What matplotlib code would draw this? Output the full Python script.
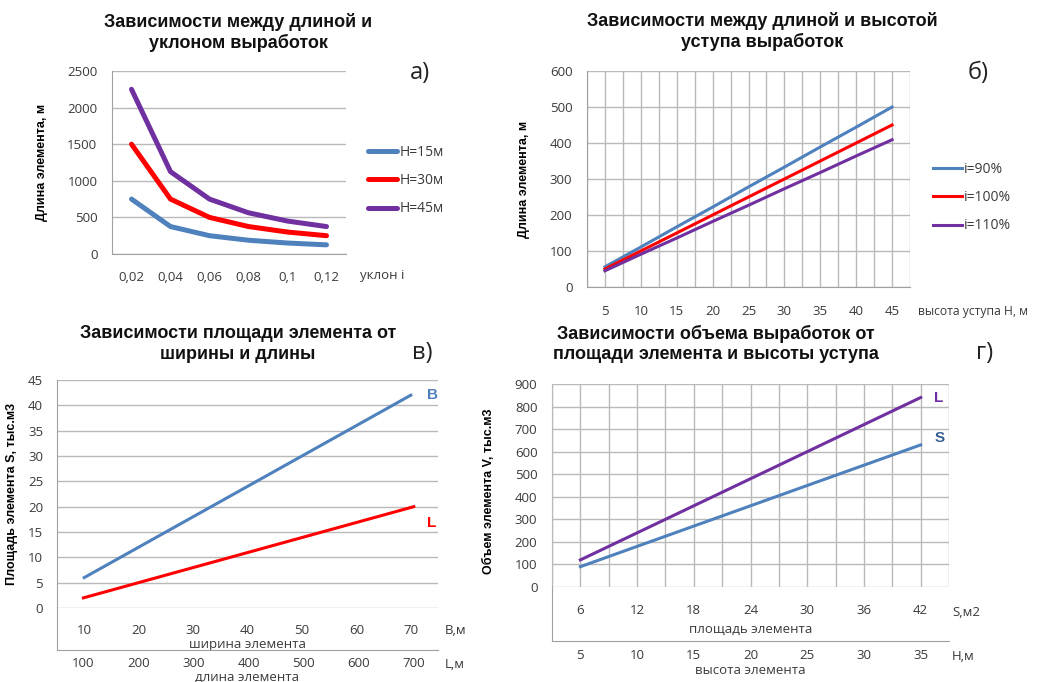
import matplotlib
matplotlib.use('Agg')
import matplotlib.pyplot as plt
from matplotlib.ticker import MultipleLocator

plt.rcParams['font.family'] = ['Open Sans', 'DejaVu Sans']

# а) длина элемента от уклона
slopes = ['0,02', '0,04', '0,06', '0,08', '0,1', '0,12']
len_h15 = [750, 375, 250, 188, 150, 125]
len_h30 = [1500, 750, 500, 375, 300, 250]
len_h45 = [2250, 1125, 750, 563, 450, 375]

# б) длина элемента от высоты уступа
heights = [5, 10, 15, 20, 25, 30, 35, 40, 45]
len_i90 = [56, 111, 167, 222, 278, 333, 389, 444, 500]
len_i100 = [50, 100, 150, 200, 250, 300, 350, 400, 450]
len_i110 = [45, 91, 136, 182, 227, 273, 318, 364, 409]

# в) площадь элемента от ширины и длины
widths_b = [10, 20, 30, 40, 50, 60, 70]
area_b = [6, 12, 18, 24, 30, 36, 42]
lengths_l = [100, 200, 300, 400, 500, 600, 700]
area_l = [2, 5, 8, 11, 14, 17, 20]

# г) объем от площади элемента и высоты уступа
areas_s = [6, 12, 18, 24, 30, 36, 42]
heights_h = [5, 10, 15, 20, 25, 30, 35]
vol_l = [120, 240, 360, 480, 600, 720, 840]
vol_s = [90, 180, 270, 360, 450, 540, 630]

BLUE = '#4f81bd'
RED = '#ff0000'
PURPLE = '#7030a0'
GRID = '#b9b9b9'
SPINE = '#a0a0a0'
TXT = '#3a3a3a'
BOLD = ['Liberation Sans', 'DejaVu Sans']

W, H = 1037, 682
fig = plt.figure(figsize=(W / 100, H / 100), dpi=100)


def rect(l, t, r, b):
    return [l / W, 1 - b / H, (r - l) / W, (b - t) / H]


def ftext(x, y, s, **kw):
    fig.text(x / W, 1 - y / H, s, **kw)


def style(ax, spines=('left', 'bottom')):
    for k, sp in ax.spines.items():
        sp.set_visible(k in spines)
        sp.set_color(SPINE)
    ax.tick_params(length=0, labelsize=9.5, labelcolor=TXT)
    ax.set_axisbelow(True)


def title(x, y, lines):
    for i, s in enumerate(lines):
        ftext(x, y + i * 20.5, s, ha='center', va='center', fontsize=13,
              fontweight='bold', family=BOLD, color='#111111')


# ---------- а) ----------
ax = fig.add_axes(rect(112, 71, 346, 254))
style(ax)
ax.plot(slopes, len_h15, color=BLUE, lw=3.6, label='H=15м', solid_capstyle='round')
ax.plot(slopes, len_h30, color=RED, lw=3.6, label='H=30м', solid_capstyle='round')
ax.plot(slopes, len_h45, color=PURPLE, lw=3.6, label='H=45м', solid_capstyle='round')
ax.set_xlim(-0.5, 5.5)
ax.set_ylim(0, 2500)
ax.yaxis.set_major_locator(MultipleLocator(500))
ax.grid(axis='y', color=GRID, lw=1)
ax.tick_params(axis='x', pad=12)
ax.tick_params(axis='y', pad=10.5)
ax.set_ylabel('Длина элемента, м', fontsize=9, fontweight='bold', family=BOLD)
ax.yaxis.set_label_coords((48 - 112) / 234, 0.5)
ax.legend(loc='upper left', bbox_to_anchor=(368 / W, 1 - 145 / H),
          bbox_transform=fig.transFigure, frameon=False, borderpad=0,
          borderaxespad=0, handlelength=2.1, handletextpad=0.15,
          labelspacing=0.95, fontsize=10, labelcolor=TXT)
ftext(360, 276, 'уклон i', ha='left', va='center', fontsize=9.5, color=TXT)
title(238, 22, ['Зависимости между длиной и', 'уклоном выработок'])
ftext(420, 73, 'а)', ha='center', va='center', fontsize=17, color='#222222')

# ---------- б) ----------
ax = fig.add_axes(rect(587, 71, 910, 287))
style(ax)
ax.plot(heights, len_i90, color=BLUE, lw=2.2, label='i=90%')
ax.plot(heights, len_i100, color=RED, lw=2.2, label='i=100%')
ax.plot(heights, len_i110, color=PURPLE, lw=2.2, label='i=110%')
ax.set_xlim(2.5, 47.5)
ax.set_ylim(0, 600)
ax.xaxis.set_major_locator(MultipleLocator(5))
ax.xaxis.set_minor_locator(MultipleLocator(2.5))
ax.yaxis.set_major_locator(MultipleLocator(100))
ax.grid(axis='x', which='both', color=GRID, lw=1)
ax.grid(axis='y', color=GRID, lw=1)
ax.tick_params(which='both', length=0)
ax.tick_params(axis='x', pad=13)
ax.tick_params(axis='y', pad=10.5)
ax.set_ylabel('Длина элемента, м', fontsize=9, fontweight='bold', family=BOLD)
ax.yaxis.set_label_coords((530 - 587) / 323, 0.5)
ax.legend(loc='upper left', bbox_to_anchor=(933 / W, 1 - 162 / H),
          bbox_transform=fig.transFigure, frameon=False, borderpad=0,
          borderaxespad=0, handlelength=2.1, handletextpad=0.1,
          labelspacing=0.95, fontsize=10, labelcolor=TXT)
ftext(918, 311, 'высота уступа Н, м', ha='left', va='center', fontsize=8.7, color=TXT)
title(762, 21, ['Зависимости между длиной и высотой', 'уступа выработок'])
ftext(978, 73, 'б)', ha='center', va='center', fontsize=17, color='#222222')

# ---------- в) ----------
ax = fig.add_axes(rect(57, 380, 438, 608))
style(ax, spines=())
ax.patch.set_visible(False)
ax.set_zorder(1)
ax.plot(widths_b, area_b, color=BLUE, lw=2.2)
ax.set_xlim(5, 75)
ax.set_ylim(0, 45)
ax.xaxis.set_major_locator(MultipleLocator(10))
ax.yaxis.set_major_locator(MultipleLocator(5))
ax.grid(axis='y', color=GRID, lw=1)
ax.tick_params(axis='x', pad=11.5)
ax.tick_params(axis='y', pad=10)
ax.set_xlabel('ширина элемента', fontsize=9.5, color=TXT, labelpad=0.5)
ax.set_ylabel('Площадь элемента S, тыс.м3', fontsize=9, fontweight='bold', family=BOLD)
ax.yaxis.set_label_coords((18 - 57) / 381, 0.5)
ax.annotate('B', xy=(widths_b[-1], area_b[-1]), xytext=(12, 0),
            textcoords='offset points', ha='left', va='center', color=BLUE,
            fontsize=11, fontweight='bold', family=BOLD)

axb = fig.add_axes(rect(57, 380, 438, 650))
style(axb)
axb.patch.set_visible(False)
axb.set_zorder(2)
axb.plot(lengths_l, area_l, color=RED, lw=2.2)
axb.set_xlim(52, 744)
axb.set_ylim(-45 * 42 / 228, 45)
axb.set_xticks(lengths_l)
axb.set_yticks([])
axb.tick_params(axis='x', pad=5)
axb.set_xlabel('длина элемента', fontsize=9.5, color=TXT, labelpad=0.5)
axb.annotate('L', xy=(lengths_l[-1], area_l[-1]), xytext=(9.5, -12),
             textcoords='offset points', ha='left', va='center', color=RED,
             fontsize=11, fontweight='bold', family=BOLD)
ftext(445, 631, 'B,м', ha='left', va='center', fontsize=9.5, color=TXT)
ftext(445, 664, 'L,м', ha='left', va='center', fontsize=9.5, color=TXT)
title(238, 334, ['Зависимости площади элемента от', 'ширины и длины'])
ftext(422, 353, 'в)', ha='center', va='center', fontsize=17, color='#222222')

# ---------- г) ----------
axb = fig.add_axes(rect(552, 384, 949, 641))
style(axb)
axb.patch.set_visible(False)
axb.set_xlim(2.5, 37.5)
axb.set_ylim(-900 * 54 / 203, 900)
axb.set_xticks(heights_h)
axb.set_yticks([])
axb.tick_params(axis='x', pad=5.8)
axb.set_xlabel('высота элемента', fontsize=9.5, color=TXT, labelpad=1.4)

ax = fig.add_axes(rect(552, 384, 949, 587))
style(ax, spines=())
ax.patch.set_visible(False)
ax.plot(areas_s, vol_l, color=PURPLE, lw=2.2)
ax.plot(areas_s, vol_s, color=BLUE, lw=2.2)
ax.set_xlim(3, 45)
ax.set_ylim(0, 900)
ax.xaxis.set_major_locator(MultipleLocator(6))
ax.xaxis.set_minor_locator(MultipleLocator(3))
ax.yaxis.set_major_locator(MultipleLocator(100))
ax.grid(axis='x', which='both', color=GRID, lw=1)
ax.grid(axis='y', color=GRID, lw=1)
ax.tick_params(which='both', length=0)
ax.tick_params(axis='x', pad=12)
ax.tick_params(axis='y', pad=10.5)
ax.set_xlabel('площадь элемента', fontsize=9.5, color=TXT, labelpad=4.3)
ax.set_ylabel('Объем элемента V, тыс.м3', fontsize=9, fontweight='bold', family=BOLD)
ax.yaxis.set_label_coords((495 - 552) / 397, 0.47)
ax.annotate('L', xy=(areas_s[-1], vol_l[-1]), xytext=(9.7, 0),
            textcoords='offset points', ha='left', va='center', color=PURPLE,
            fontsize=11, fontweight='bold', family=BOLD)
ax.annotate('S', xy=(areas_s[-1], vol_s[-1]), xytext=(9.7, 5),
            textcoords='offset points', ha='left', va='center', color='#376092',
            fontsize=11, fontweight='bold', family=BOLD)
ftext(952, 613, 'S,м2', ha='left', va='center', fontsize=9.5, color=TXT)
ftext(952, 656, 'H,м', ha='left', va='center', fontsize=9.5, color=TXT)
title(716, 334, ['Зависимости объема выработок от', 'площади элемента и высоты уступа'])
ftext(985, 353, 'г)', ha='center', va='center', fontsize=17, color='#222222')

fig.savefig('out.png', dpi=100)
